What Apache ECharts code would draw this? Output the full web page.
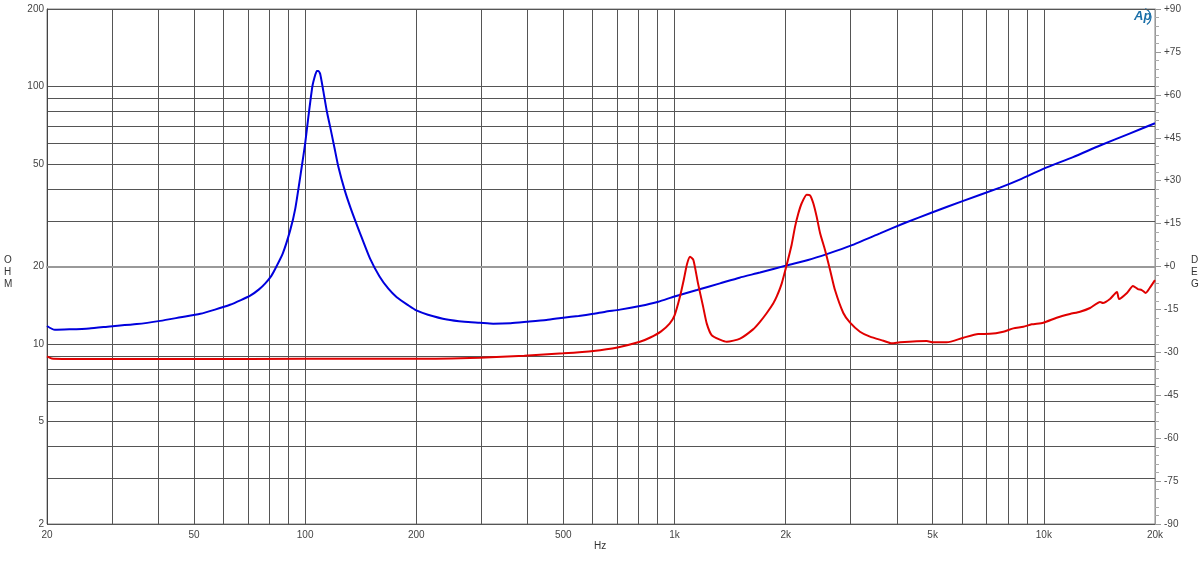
<!DOCTYPE html>
<html>
<head>
<meta charset="utf-8">
<script src="https://cdn.jsdelivr.net/npm/echarts@6/dist/echarts.min.js"></script>
<style>
html,body{margin:0;padding:0;background:#fff;}
#chart{width:1200px;height:561px;}
</style>
</head>
<body>
<div id="chart"></div>
<script>
// ---- data ----
const blueFreqs = [20,21,23,26,29.6,35,40.5,46,52,57,62.6,67,71,75,78,81,83,87,91,94,97.9,100,102,104.6,106.5,107.6,108.6,109.8,112,114.5,116.8,120,123,128,133,141,150,159,168,177,190,200,215,242,270,297,323,360,398,450,500,550,603,650,712,806,904,1000,1150,1328,1500,1704,2013,2300,2596,3000,3601,4200,5000,6000,7608,8700,10000,12000,14200,17000,20000];
const blueOhms = [11.75,11.35,11.4,11.5,11.7,11.95,12.3,12.7,13.1,13.6,14.2,14.8,15.4,16.3,17.2,18.4,19.6,22.5,27.5,33.5,48.8,60,76,100,111,115,115,112,96,80,70,58,48.8,39.5,33.5,26.8,21.4,18.3,16.4,15.2,14.15,13.5,13.0,12.45,12.2,12.1,12.0,12.05,12.2,12.4,12.65,12.85,13.1,13.35,13.6,14.05,14.6,15.3,16.2,17.2,18.1,18.95,20.2,21.2,22.4,24.1,26.9,29.5,32.5,35.8,40.5,43.8,48,53.2,59,65.5,72];

const redFreqs = [20,20.6,22,30,50,100,200,297,392,500,603,701,806,860,920,970,1000,1035,1060,1081,1102,1125,1158,1195,1223,1262,1328,1385,1505,1632,1704,1778,1852,1892,1952,2013,2076,2120,2164,2210,2280,2328,2376,2428,2478,2556,2638,2720,2865,2988,3178,3383,3677,3875,4080,4819,5022,5458,6055,6646,7150,7768,8267,8800,9272,9970,10833,11772,12530,13340,14200,14460,15100,15780,15980,16790,17430,17980,18410,18880,19350,20000];
const redOhms = [8.95,8.78,8.75,8.75,8.75,8.76,8.76,8.85,9.0,9.2,9.4,9.7,10.2,10.6,11.2,12.0,12.9,15.3,17.8,20.4,21.8,21.2,17.2,14.0,12.0,10.8,10.4,10.2,10.5,11.4,12.2,13.2,14.4,15.3,17.2,20.3,24.3,28.5,32.1,35.2,38.0,37.8,35.2,31.1,27.0,23.2,19.4,16.2,13.2,12.1,11.16,10.68,10.3,10.06,10.15,10.27,10.15,10.15,10.58,10.94,10.95,11.16,11.5,11.67,11.93,12.1,12.65,13.08,13.35,13.8,14.56,14.43,14.95,15.92,14.95,15.78,16.8,16.35,16.2,15.78,16.5,17.7];

const xGridValues = [20,30,40,50,60,70,80,90,100,200,300,400,500,600,700,800,900,1000,2000,3000,4000,5000,6000,7000,8000,9000,10000,20000];
const xLabelValues = [20,50,100,200,500,1000,2000,5000,10000,20000];
const yGridValues = [2,3,4,5,6,7,8,9,10,20,30,40,50,60,70,80,90,100,200];
const yLabelValues = [2,5,10,20,50,100,200];
const degMin = -90, degMax = 90, degStep = 15;

// ---- chart ----
const blueData = blueFreqs.map((f,i)=>[f, blueOhms[i]]);
const redData = redFreqs.map((f,i)=>[f, redOhms[i]]);
const labelFont = {color:'#444', fontSize:10, fontFamily:'Liberation Sans, Arial, sans-serif'};
const chart = echarts.init(document.getElementById('chart'), null, {renderer:'canvas'});
chart.setOption({
  animation:false,
  backgroundColor:'#fff',
  grid:{left:47, right:45, top:9, bottom:37, show:true, borderColor:'#888', borderWidth:1},
  xAxis:{
    type:'log', logBase:10, min:20, max:20000,
    axisLine:{show:true, lineStyle:{color:'#999', width:2}},
    axisTick:{show:false, customValues:xGridValues},
    splitLine:{show:true, lineStyle:{color:'#555', width:1}},
    axisLabel:Object.assign({customValues:xLabelValues, margin:6,
      formatter:v=> v>=1000 ? (v/1000)+'k' : String(v)}, labelFont)
  },
  yAxis:[{
    type:'log', logBase:10, min:2, max:200,
    axisLine:{show:true, lineStyle:{color:'#444', width:1}},
    axisTick:{show:false, customValues:yGridValues},
    splitLine:{show:true, lineStyle:{color:'#555', width:1}},
    axisLabel:Object.assign({customValues:yLabelValues, margin:3}, labelFont)
  },{
    type:'value', position:'right', min:degMin, max:degMax, interval:degStep,
    axisLine:{show:true, lineStyle:{color:'#999', width:1}},
    axisTick:{show:true, length:6, lineStyle:{color:'#999'}},
    minorTick:{show:true, splitNumber:5, length:4, lineStyle:{color:'#aaa'}},
    splitLine:{show:false},
    axisLabel:Object.assign({margin:9, formatter:v=> (v>=0?'+':'')+v}, labelFont)
  }],
  series:[{
    type:'line', name:'blue', data:blueData, yAxisIndex:0, showSymbol:false, smooth:0.2,
    lineStyle:{color:'#0000dd', width:2}, itemStyle:{color:'#0000dd'}
  },{
    type:'line', name:'red', data:redData, yAxisIndex:0, showSymbol:false, smooth:0.2,
    lineStyle:{color:'#e00000', width:2}, itemStyle:{color:'#e00000'}
  }],
  graphic:[
    {type:'text', left:4, top:254, style:{text:'O\nH\nM', fill:'#333', font:'10px Liberation Sans, Arial, sans-serif', lineHeight:12, align:'center'}},
    {type:'text', left:1191, top:254, style:{text:'D\nE\nG', fill:'#333', font:'10px Liberation Sans, Arial, sans-serif', lineHeight:12}},
    {type:'text', left:594, top:541, style:{text:'Hz', fill:'#333', font:'10px Liberation Sans, Arial, sans-serif'}},
    {type:'text', left:1134, top:10, style:{text:'Ap', fill:'#1a6fa8', font:'italic bold 13px Liberation Sans, Arial, sans-serif'}},
    {type:'arc', shape:{cx:1142, cy:17, r:9, startAngle:-1.2, endAngle:1.0}, style:{stroke:'#1a6fa8', fill:null, lineWidth:1.2}}
  ]
});
</script>
</body>
</html>
